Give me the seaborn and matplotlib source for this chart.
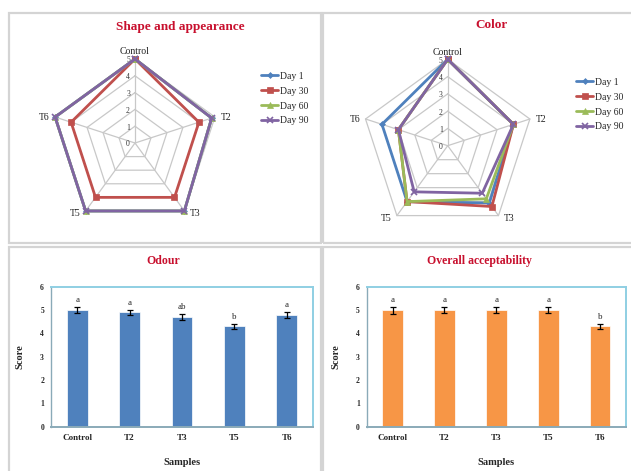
import numpy as np
import pandas as pd
import matplotlib
matplotlib.use("Agg")
import matplotlib.pyplot as plt
from matplotlib.patches import Rectangle
import seaborn as sns

# ---------------- data ----------------
radar_cats = ["Control", "T2", "T3", "T5", "T6"]
days = ["Day 1", "Day 30", "Day 60", "Day 90"]

shape_day1 = [5, 4.8, 5, 5, 5]
shape_day30 = [5, 4, 4, 4, 4]
shape_day60 = [5, 4.8, 5, 5, 5]
shape_day90 = [5, 4.8, 5, 5, 5]

color_day1 = [5, 4, 4.1, 4, 4]
color_day30 = [5, 4, 4.35, 4, 3]
color_day60 = [5, 4, 3.8, 4, 3]
color_day90 = [5, 4, 3.4, 3.3, 3]

bar_cats = ["Control", "T2", "T3", "T5", "T6"]
odour_mean = [5.0, 4.9, 4.7, 4.3, 4.8]
odour_err = [0.12, 0.12, 0.12, 0.12, 0.13]
odour_letters = ["a", "a", "ab", "b", "a"]

overall_mean = [5.0, 5.0, 5.0, 5.0, 4.3]
overall_err = [0.15, 0.13, 0.13, 0.14, 0.12]
overall_letters = ["a", "a", "a", "a", "b"]

# ---------------- style ----------------
sns.set_theme(style="white")
plt.rcParams["font.family"] = ["Liberation Serif", "DejaVu Serif"]

W, H = 631, 471
fig = plt.figure(figsize=(W / 100, H / 100), dpi=100)

def fx(x):
    return x / W

def fy(y):
    return 1 - y / H

def add_ax(x0, y0, x1, y1, **kw):
    return fig.add_axes([fx(x0), fy(y1), fx(x1) - fx(x0), fy(y0) - fy(y1)], **kw)

# panel borders
border = "#d4d4d4"
for (x0, y0, x1, y1) in [(9, 12.7, 320.7, 243.3), (323.3, 12.7, 650, 243.3),
                         (9, 246.7, 320.7, 490), (323.3, 246.7, 650, 490)]:
    fig.patches.append(Rectangle((fx(x0), fy(y1)), fx(x1) - fx(x0), fy(y0) - fy(y1),
                                 transform=fig.transFigure, fill=False,
                                 edgecolor=border, lw=1.6, zorder=0))

title_red = "#c8102e"
pal = {"Day 1": "#4f81bd", "Day 30": "#c0504d", "Day 60": "#9bbb59", "Day 90": "#8064a2"}
markers = {"Day 1": "D", "Day 30": "s", "Day 60": "^", "Day 90": "x"}
msize = {"Day 1": 3, "Day 30": 5, "Day 60": 4.5, "Day 90": 5}

def radar(cx, cy, rad, series, title, title_xy, leg_xy):
    ax = add_ax(cx - rad, cy - rad, cx + rad, cy + rad, projection="polar")
    ax.set_theta_offset(np.pi / 2)
    ax.set_theta_direction(-1)
    ax.set_ylim(0, 5)
    ax.grid(False)
    ax.spines["polar"].set_visible(False)
    ax.set_xticks([])
    ax.set_yticks([])
    ax.patch.set_alpha(0)
    n = len(radar_cats)
    thetas = np.arange(n) * 2 * np.pi / n
    tc = np.append(thetas, thetas[0])
    # pentagon grid
    for r in range(1, 6):
        ax.plot(tc, [r] * (n + 1), color="#c8c8c8", lw=0.9, zorder=1, clip_on=False)
    for t in thetas:
        ax.plot([t, t], [0, 5], color="#c8c8c8", lw=0.9, zorder=1, clip_on=False)
    # radial labels
    for r in range(0, 6):
        ax.annotate(str(r), (0, r), xytext=(-5, -1), textcoords="offset points",
                    ha="center", va="center", fontsize=5.5, color="#333333")
    # category labels
    offs = {"Control": (0, 2, "center", "bottom"), "T2": (4, 0, "left", "center"),
            "T3": (4, -2, "left", "center"), "T5": (-4, -2, "right", "center"),
            "T6": (-4, 0, "right", "center")}
    for t, c in zip(thetas, radar_cats):
        dx, dy, ha, va = offs[c]
        ax.annotate(c, (t, 5), xytext=(dx, dy),
                    textcoords="offset points", ha=ha, va=va, fontsize=7, color="#222222")
    rows = []
    for d, vals in zip(days, series):
        for i, (t, v) in enumerate(zip(np.append(thetas, 2 * np.pi), vals + [vals[0]])):
            rows.append({"day": d, "theta": t, "r": v, "order": i})
    df = pd.DataFrame(rows)
    for d in days:
        sub = df[df.day == d]
        sns.lineplot(data=sub, x="theta", y="r", sort=False, ax=ax, color=pal[d],
                     lw=2, marker=markers[d], markersize=msize[d],
                     markeredgecolor=pal[d], markeredgewidth=1.2 if d == "Day 90" else 0.5,
                     clip_on=False, zorder=3, estimator=None, label=d)
    ax.set_xlabel("")
    ax.set_ylabel("")
    h, l = ax.get_legend_handles_labels()
    ax.legend(h, l, loc="upper left", bbox_to_anchor=(fx(leg_xy[0]), fy(leg_xy[1])),
              bbox_transform=fig.transFigure, frameon=False, fontsize=7,
              handlelength=1.8, handletextpad=0.2, labelspacing=0.6, borderpad=0)
    fig.text(fx(title_xy[0]), fy(title_xy[1]), title, ha="center", va="center",
             fontsize=9.5, fontweight="bold", color=title_red)

radar(135, 143, 84, [shape_day1, shape_day30, shape_day60, shape_day90],
      "Shape and appearance", (180, 27), (256, 67))
radar(447.7, 145.7, 86.4, [color_day1, color_day30, color_day60, color_day90],
      "Color", (492, 25), (571, 73))

def bars(x0, x1, means, errs, letters, color, title, title_x):
    ax = add_ax(x0, 286.7, x1, 426.7)
    df = pd.DataFrame({"Samples": bar_cats, "Score": means})
    sns.barplot(data=df, x="Samples", y="Score", color=color, width=0.4,
                saturation=1, ax=ax, edgecolor="white", linewidth=0.5)
    xs = np.arange(len(bar_cats))
    ax.errorbar(xs, means, yerr=errs, fmt="none", ecolor="black", elinewidth=0.9,
                capsize=2.2, capthick=0.9)
    for x, m, e, t in zip(xs, means, errs, letters):
        ax.text(x, m + e + 0.12, t, ha="center", va="bottom", fontsize=6.5)
    ax.set_ylim(0, 6)
    ax.set_xlim(-0.5, len(bar_cats) - 0.5)
    ax.set_yticks(range(0, 7))
    ax.set_yticklabels([str(i) for i in range(0, 7)], fontsize=5.5, fontweight="bold")
    ax.set_xticklabels(bar_cats, fontsize=6.5, fontweight="bold")
    ax.tick_params(axis="x", length=0, pad=5)
    ax.tick_params(axis="y", length=3, width=0.6, color="#888888", pad=2, direction="out")
    ax.set_xticks(np.arange(-0.5, len(bar_cats)), minor=True)
    ax.tick_params(axis="x", which="minor", length=2.5, width=0.6, color="#999999")
    for s in ax.spines.values():
        s.set_color("#8fcfe3")
        s.set_linewidth(1.4)
    ax.spines["bottom"].set_color("#8aaab8")
    ax.spines["left"].set_color("#8aaab8")
    ax.spines["left"].set_linewidth(1.0)
    ax.set_xlabel("Samples", fontsize=7.5, fontweight="bold", labelpad=12)
    ax.set_ylabel("Score", fontsize=7.5, fontweight="bold", labelpad=11)
    fig.text(fx(title_x), fy(261), title, ha="center", va="center",
             fontsize=8.5, fontweight="bold", color=title_red)

bars(51, 313, odour_mean, odour_err, odour_letters, "#4f81bd", "Odour", 163)
bars(366.7, 626, overall_mean, overall_err, overall_letters, "#f79646",
     "Overall acceptability", 479)

fig.savefig("out.png", dpi=100)
